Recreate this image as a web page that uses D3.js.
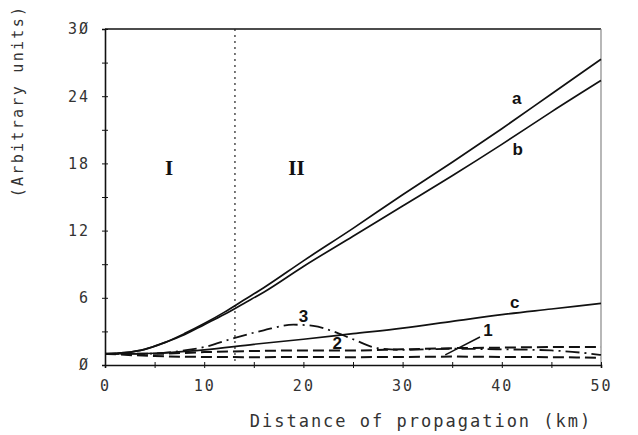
<!DOCTYPE html>
<html lang="en">
<head>
	<meta charset="utf-8">
	<title>Distance of propagation</title>
	<script type="text/javascript" src="https://cdn.jsdelivr.net/npm/d3@7/dist/d3.min.js"></script>
	<style>
		body { margin: 0; background: #fff; }
		.tick text, .axis-label { font-family: "DejaVu Sans Mono", monospace; fill: #333; }
		.curve { fill: none; stroke: #111; }
		.lbl { font-family: "Liberation Sans", Arial, sans-serif; font-weight: bold; font-size: 17px; fill: #111; }
		.region { font-family: "Liberation Serif", serif; font-weight: bold; font-size: 21px; fill: #111; }
	</style>
</head>
<body>
	<div id="chart"></div>
<script type="text/javascript">

	// data (km, arbitrary units)
	var xA = [0, 2, 4, 6, 8, 10, 12, 14, 16, 20, 25, 30, 35, 40, 45, 50];
	var curveA = [1.0, 1.1, 1.4, 2.0, 2.8, 3.7, 4.7, 5.8, 6.9, 9.3, 12.2, 15.2, 18.1, 21.1, 24.2, 27.3];
	var curveB = [1.0, 1.1, 1.4, 2.0, 2.7, 3.6, 4.5, 5.5, 6.5, 8.8, 11.5, 14.2, 16.9, 19.7, 22.6, 25.4];

	var xC = [0, 5, 10, 15, 20, 25, 30, 35, 40, 45, 50];
	var curveC = [1.0, 1.05, 1.35, 1.85, 2.3, 2.8, 3.3, 3.9, 4.5, 5.0, 5.5];
	var curve1 = [1.0, 0.8, 0.72, 0.7, 0.72, 0.7, 0.72, 0.75, 0.72, 0.7, 0.65];
	var curve2 = [1.0, 1.0, 1.15, 1.25, 1.3, 1.3, 1.4, 1.5, 1.55, 1.6, 1.6];

	var x3 = [0, 4, 8, 10, 13, 16, 19, 21, 23, 25, 27.5, 30, 35, 40, 45, 48, 50];
	var curve3 = [1.0, 1.0, 1.3, 1.6, 2.4, 3.1, 3.6, 3.5, 3.0, 2.3, 1.5, 1.35, 1.45, 1.4, 1.3, 1.1, 0.9];

	var boundary = 13.1;

	var xTicks = [0, 5, 10, 15, 20, 25, 30, 35, 40, 45, 50];
	var yTicks = [0, 3, 6, 9, 12, 15, 18, 21, 24, 27, 30];
	var xLabels = [0, 10, 20, 30, 40, 50];
	var yLabels = [0, 6, 12, 18, 24, 30];

	var w = 638,
	    h = 435,
	    m = {top: 29, right: 37, bottom: 70, left: 105};

	var svg = d3.select("#chart")
		.append("svg")
		.attr("width", w)
		.attr("height", h);

	var x = d3.scaleLinear().domain([0, 50]).range([m.left, w - m.right]);
	var y = d3.scaleLinear().domain([0, 30]).range([h - m.bottom, m.top]);

	// frame: top and right
	svg.append("line")
		.attr("x1", x(0)).attr("x2", x(50)).attr("y1", y(30)).attr("y2", y(30))
		.attr("stroke", "#111").attr("stroke-width", 1.6);
	svg.append("line")
		.attr("x1", x(50)).attr("x2", x(50)).attr("y1", y(30)).attr("y2", y(0))
		.attr("stroke", "#888").attr("stroke-width", 1.2);

	// axes: ticks crossing the line on both sides
	function axisPair(gen1, gen2, transform) {
		svg.append("g").attr("transform", transform).call(gen1)
			.call(function(g) { g.selectAll("text").remove(); g.select(".domain").remove(); });
		return svg.append("g").attr("transform", transform).call(gen2);
	}

	var gx = axisPair(
		d3.axisTop(x).tickValues(xTicks).tickSize(3),
		d3.axisBottom(x).tickValues(xTicks).tickSize(3)
			.tickFormat(function(d) { return xLabels.indexOf(d) >= 0 ? d : ""; }),
		"translate(0," + y(0) + ")");
	gx.selectAll(".tick text").attr("font-size", 15).attr("dy", 20).attr("letter-spacing", 2)
		.style("font-family", "DejaVu Sans Mono, monospace");

	var gy = axisPair(
		d3.axisRight(y).tickValues(yTicks).tickSize(3),
		d3.axisLeft(y).tickValues(yTicks).tickSize(3)
			.tickFormat(function(d) { return yLabels.indexOf(d) >= 0 ? String(d).replace(/0/g, "Ø") : ""; }),
		"translate(" + x(0) + ",0)");
	gy.selectAll(".tick text").attr("font-size", 15).attr("x", -15).attr("letter-spacing", 2)
		.style("font-family", "DejaVu Sans Mono, monospace");

	svg.selectAll(".domain").attr("stroke", "#111").attr("stroke-width", 1.6);
	svg.selectAll(".tick line").attr("stroke", "#111");

	// axis titles
	svg.append("text").attr("class", "axis-label")
		.attr("x", 421).attr("y", 427)
		.attr("text-anchor", "middle").attr("font-size", 17).attr("letter-spacing", 2)
		.text("Distance of propagation (km)");
	svg.append("text").attr("class", "axis-label")
		.attr("transform", "translate(23,101) rotate(-90)")
		.attr("text-anchor", "middle").attr("font-size", 15).attr("letter-spacing", 2.3)
		.text("(Arbitrary units)");

	// boundary between region I and II
	svg.append("line")
		.attr("x1", x(boundary)).attr("x2", x(boundary))
		.attr("y1", y(30)).attr("y2", y(0))
		.attr("stroke", "#222").attr("stroke-width", 1.2)
		.attr("stroke-dasharray", "2,4");

	var line = d3.line().curve(d3.curveMonotoneX);

	function drawCurve(xs, ys, width, dash) {
		svg.append("path")
			.attr("class", "curve")
			.attr("d", line(xs.map(function(d, i) { return [x(d), y(ys[i])]; })))
			.attr("stroke-width", width)
			.attr("stroke-dasharray", dash);
	}

	drawCurve(xA, curveA, 1.7, null);
	drawCurve(xA, curveB, 1.7, null);
	drawCurve(xC, curveC, 1.7, null);
	drawCurve(xC, curve1, 2, "11,5");
	drawCurve(xC, curve2, 2, "11,5");
	drawCurve(x3, curve3, 1.8, "14,5,2,5");

	// labels
	var labels = [
		{t: "a", x: 41.5, y: 23.8},
		{t: "b", x: 41.6, y: 19.3},
		{t: "c", x: 41.3, y: 5.6},
		{t: "3", x: 20.0, y: 4.4},
		{t: "2", x: 23.4, y: 2.0},
		{t: "1", x: 38.6, y: 3.1}
	];
	svg.selectAll(".lbl")
		.data(labels)
		.enter()
		.append("text")
		.attr("class", "lbl")
		.attr("x", function(d) { return x(d.x); })
		.attr("y", function(d) { return y(d.y); })
		.attr("dy", "0.35em")
		.attr("text-anchor", "middle")
		.text(function(d) { return d.t; });

	// leader from "1"
	svg.append("line")
		.attr("x1", x(37.8)).attr("y1", y(2.5))
		.attr("x2", x(34.3)).attr("y2", y(0.9))
		.attr("stroke", "#111").attr("stroke-width", 1.5);

	svg.selectAll(".region")
		.data([{t: "I", x: 6.45}, {t: "II", x: 19.3}])
		.enter()
		.append("text")
		.attr("class", "region")
		.attr("x", function(d) { return x(d.x); })
		.attr("y", y(17.6))
		.attr("dy", "0.35em")
		.attr("text-anchor", "middle")
		.text(function(d) { return d.t; });
</script>
</body>
</html>
